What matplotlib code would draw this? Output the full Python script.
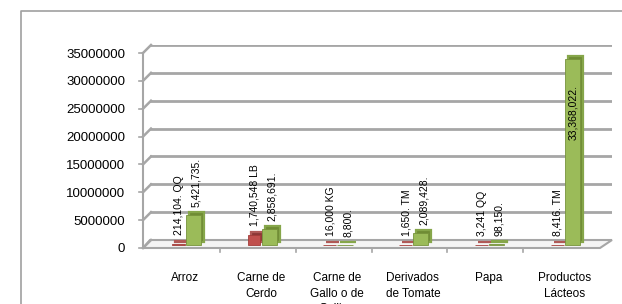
import numpy as np
import matplotlib
matplotlib.use("Agg")
import matplotlib.pyplot as plt
from matplotlib.transforms import ScaledTranslation
from matplotlib.patches import Polygon

plt.rcParams['font.family'] = ['Liberation Sans', 'DejaVu Sans']

categorias = ['Arroz', 'Carne de\nCerdo', 'Carne de\nGallo o de\nGallina',
              'Derivados\nde Tomate', 'Papa', 'Productos\nLácteos']
rojo_vals = [214104, 1740548, 16000, 1650, 3241, 8416]
verde_vals = [5421735, 2858691, 8800, 2089428, 98150, 33368022]
rojo_txt = ['214,104. QQ', '1,740,548 LB', '16,000 KG', '1,650. TM', '3,241 QQ', '8,416. TM']
verde_txt = ['5,421,735.', '2,858,691.', '8,800.', '2,089,428.', '98,150.', '33,368,022.']
yticks = np.arange(0, 35000001, 5000000)

W, H, DPI = 622, 304, 100
fig = plt.figure(figsize=(W / DPI, H / DPI), dpi=DPI)

# overlay in pixel coords for the frame / 3d floor
bg = fig.add_axes([0, 0, 1, 1], zorder=0)
bg.set_xlim(0, W)
bg.set_ylim(H, 0)
bg.axis('off')

# back wall axes
x0, x1, yb, yt = 150, 612, 240, 45
ax = fig.add_axes([x0 / W, (H - yb) / H, (x1 - x0) / W, (yb - yt) / H], zorder=1)
ax.patch.set_alpha(0)
step = 75.8
c0 = 189
ax.set_xlim((x0 - c0) / step, (x1 - c0) / step)
ax.set_ylim(0, 35000000)
for s in ax.spines.values():
    s.set_visible(False)

def off(dx, dy):
    return ax.transData + ScaledTranslation(dx / DPI, dy / DPI, fig.dpi_scale_trans)

gcol = '#a6a6a6'
ax.set_yticks(yticks)
ax.set_yticklabels([str(v) for v in yticks])
ax.yaxis.grid(True, color=gcol, lw=2.0)
ax.set_axisbelow(True)
ax.tick_params(axis='y', length=0, pad=18, labelsize=9.5)
for lab in ax.get_yticklabels():
    lab.set_transform(lab.get_transform() + ScaledTranslation(0, -8 / DPI, fig.dpi_scale_trans))

x = np.arange(len(categorias))
ax.set_xticks(x)
ax.set_xticklabels(categorias, fontsize=8.5, linespacing=1.4, va='top')
ax.tick_params(axis='x', length=0, pad=23)
for lab in ax.get_xticklabels():
    lab.set_transform(lab.get_transform() + ScaledTranslation(-3.5 / DPI, 0, fig.dpi_scale_trans))

# frame
bg.plot([21, 21, W], [H, 11, 11], color='#a0a0a0', lw=1.2)
# front axis, ticks and side wall connectors
bg.plot([143, 143], [53, 248], color=gcol, lw=1.5)
for v in yticks:
    py = yb - (yb - yt) * v / 35000000
    bg.plot([139, 143], [py + 8, py + 8], color=gcol, lw=1.2)
    bg.plot([143, 151], [py + 8, py], color=gcol, lw=1.8)
# floor
bg.add_patch(Polygon([[143, 248], [600, 248], [612, 240], [150, 240]],
                     closed=True, facecolor='#f4f4f4', edgecolor=gcol, lw=1.5))
for i in range(5):
    px = c0 + step * (i + 0.5) - 7
    bg.plot([px, px], [248, 252], color=gcol, lw=1.2)

# 3d look: a darker box behind each bar, shifted back/up
ax.bar(x - 0.09, rojo_vals, width=0.17, color='#8c3836', edgecolor='#b05a57', lw=1.6,
       transform=off(-1, -2), zorder=2, clip_on=False)
ax.bar(x + 0.11, verde_vals, width=0.2, color='#6f8c34', edgecolor='#86a64a', lw=1.6,
       transform=off(-1, -2), zorder=2, clip_on=False)
ax.bar(x - 0.09, rojo_vals, width=0.17, color='#c0504d', edgecolor='#a33c39', lw=0.6,
       transform=off(-4, -5), zorder=3, clip_on=False)
ax.bar(x + 0.11, verde_vals, width=0.2, color='#9bbb59', edgecolor='#77933c', lw=0.6,
       transform=off(-4, -5), zorder=3, clip_on=False)

for i in range(len(categorias)):
    ax.text(x[i] - 0.09, rojo_vals[i], rojo_txt[i], rotation=90, ha='center', va='bottom',
            fontsize=7.5, transform=off(-3.5, 4), zorder=4)
    if verde_vals[i] > 30000000:
        ax.text(x[i] + 0.11, verde_vals[i], verde_txt[i], rotation=90, ha='center', va='top',
                fontsize=7.5, transform=off(-3.5, -31), zorder=4)
    else:
        ax.text(x[i] + 0.14, verde_vals[i], verde_txt[i], rotation=90, ha='center', va='bottom',
                fontsize=7.5, transform=off(-3.5, 3), zorder=4)

fig.savefig('out.png', dpi=DPI)
